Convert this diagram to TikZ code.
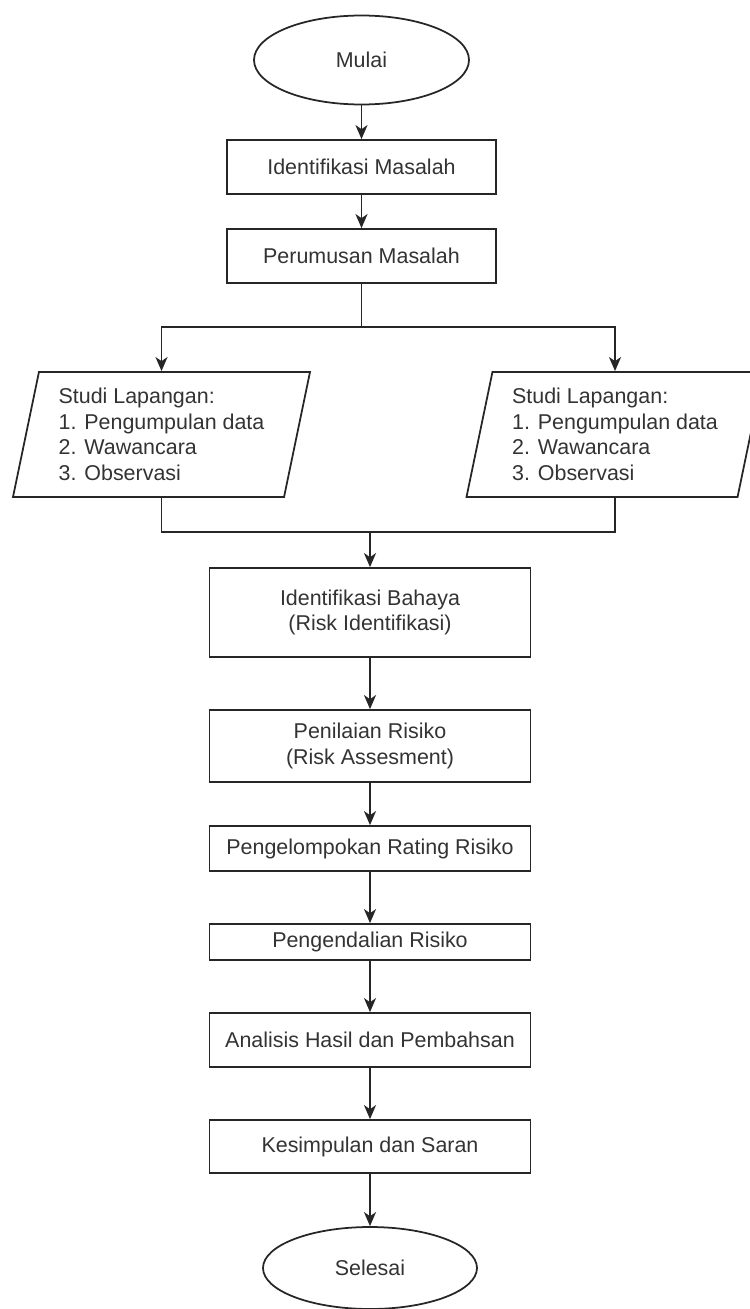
\documentclass[tikz,border=0pt]{standalone}
\usepackage{fontspec}
\setmainfont{Liberation Sans}
\usetikzlibrary{shapes.geometric,arrows.meta}

\tikzset{
	garis/.style={draw=black!85, line width=1pt},
	panah/.style={garis, -{Stealth[length=2.8mm,width=2.4mm,inset=0.8mm]}},
	tulisan/.style={text=black!80, font=\fontsize{12.2}{14.6}\selectfont},
	terminal/.style={garis, tulisan, ellipse, minimum width=4.3cm, minimum height=1.78cm},
	proses/.style={garis, tulisan, rectangle, align=center, minimum width=6.42cm},
	masukan/.style={garis, tulisan, trapezium, trapezium left angle=74.36, trapezium right angle=105.64,
		trapezium stretches body, minimum width=5.94cm, minimum height=2.5cm,
		align=left, inner sep=0pt},
}

\begin{document}
\begin{tikzpicture}
			\useasboundingbox (0,0) rectangle (14.98,-26.18);
			\node[terminal] (mulai) at (7.23,-1.20) {Mulai};
			\node[proses, minimum width=5.38cm, minimum height=1.08cm] (idmas) at (7.23,-3.34) {Identifikasi Masalah};
			\node[proses, minimum width=5.38cm, minimum height=1.08cm] (rumus) at (7.23,-5.12) {Perumusan Masalah};
			\coordinate (cabang) at (7.23,-6.54);
			\node[masukan] (studi1) at (3.23,-8.69) {Studi Lapangan:\\1. Pengumpulan data\\2. Wawancara\\3. Observasi};
			\node[masukan] (studi2) at (12.30,-8.69) {Studi Lapangan:\\1. Pengumpulan data\\2. Wawancara\\3. Observasi};
			\coordinate (gabung) at (7.40,-10.64);
			\node[proses, minimum height=1.78cm] (bahaya) at (7.40,-12.25) {Identifikasi Bahaya\\(Risk Identifikasi)};
			\node[proses, minimum height=1.44cm] (nilai) at (7.40,-14.92) {Penilaian Risiko\\(Risk Assesment)};
			\node[proses, minimum height=0.90cm] (rating) at (7.40,-16.97) {Pengelompokan Rating Risiko};
			\node[proses, minimum height=0.72cm] (kendali) at (7.40,-18.84) {Pengendalian Risiko};
			\node[proses, minimum height=1.08cm] (analisis) at (7.40,-20.80) {Analisis Hasil dan Pembahsan};
			\node[proses, minimum height=1.06cm] (simpul) at (7.40,-22.93) {Kesimpulan dan Saran};
			\node[terminal, minimum width=4.28cm, minimum height=1.64cm] (selesai) at (7.40,-25.36) {Selesai};

			\draw[panah] (mulai) -- (idmas);
			\draw[panah] (idmas) -- (rumus);
			\draw[garis] (rumus) -- (cabang);
			\draw[panah] (cabang) -| (studi1);
			\draw[panah] (cabang) -| (studi2);
			\draw[garis] (studi1) |- (gabung);
			\draw[garis] (studi2) |- (gabung);
			\draw[panah] (gabung) -- (bahaya);
			\draw[panah] (bahaya) -- (nilai);
			\draw[panah] (nilai) -- (rating);
			\draw[panah] (rating) -- (kendali);
			\draw[panah] (kendali) -- (analisis);
			\draw[panah] (analisis) -- (simpul);
			\draw[panah] (simpul) -- (selesai);
		\end{tikzpicture}
\end{document}
